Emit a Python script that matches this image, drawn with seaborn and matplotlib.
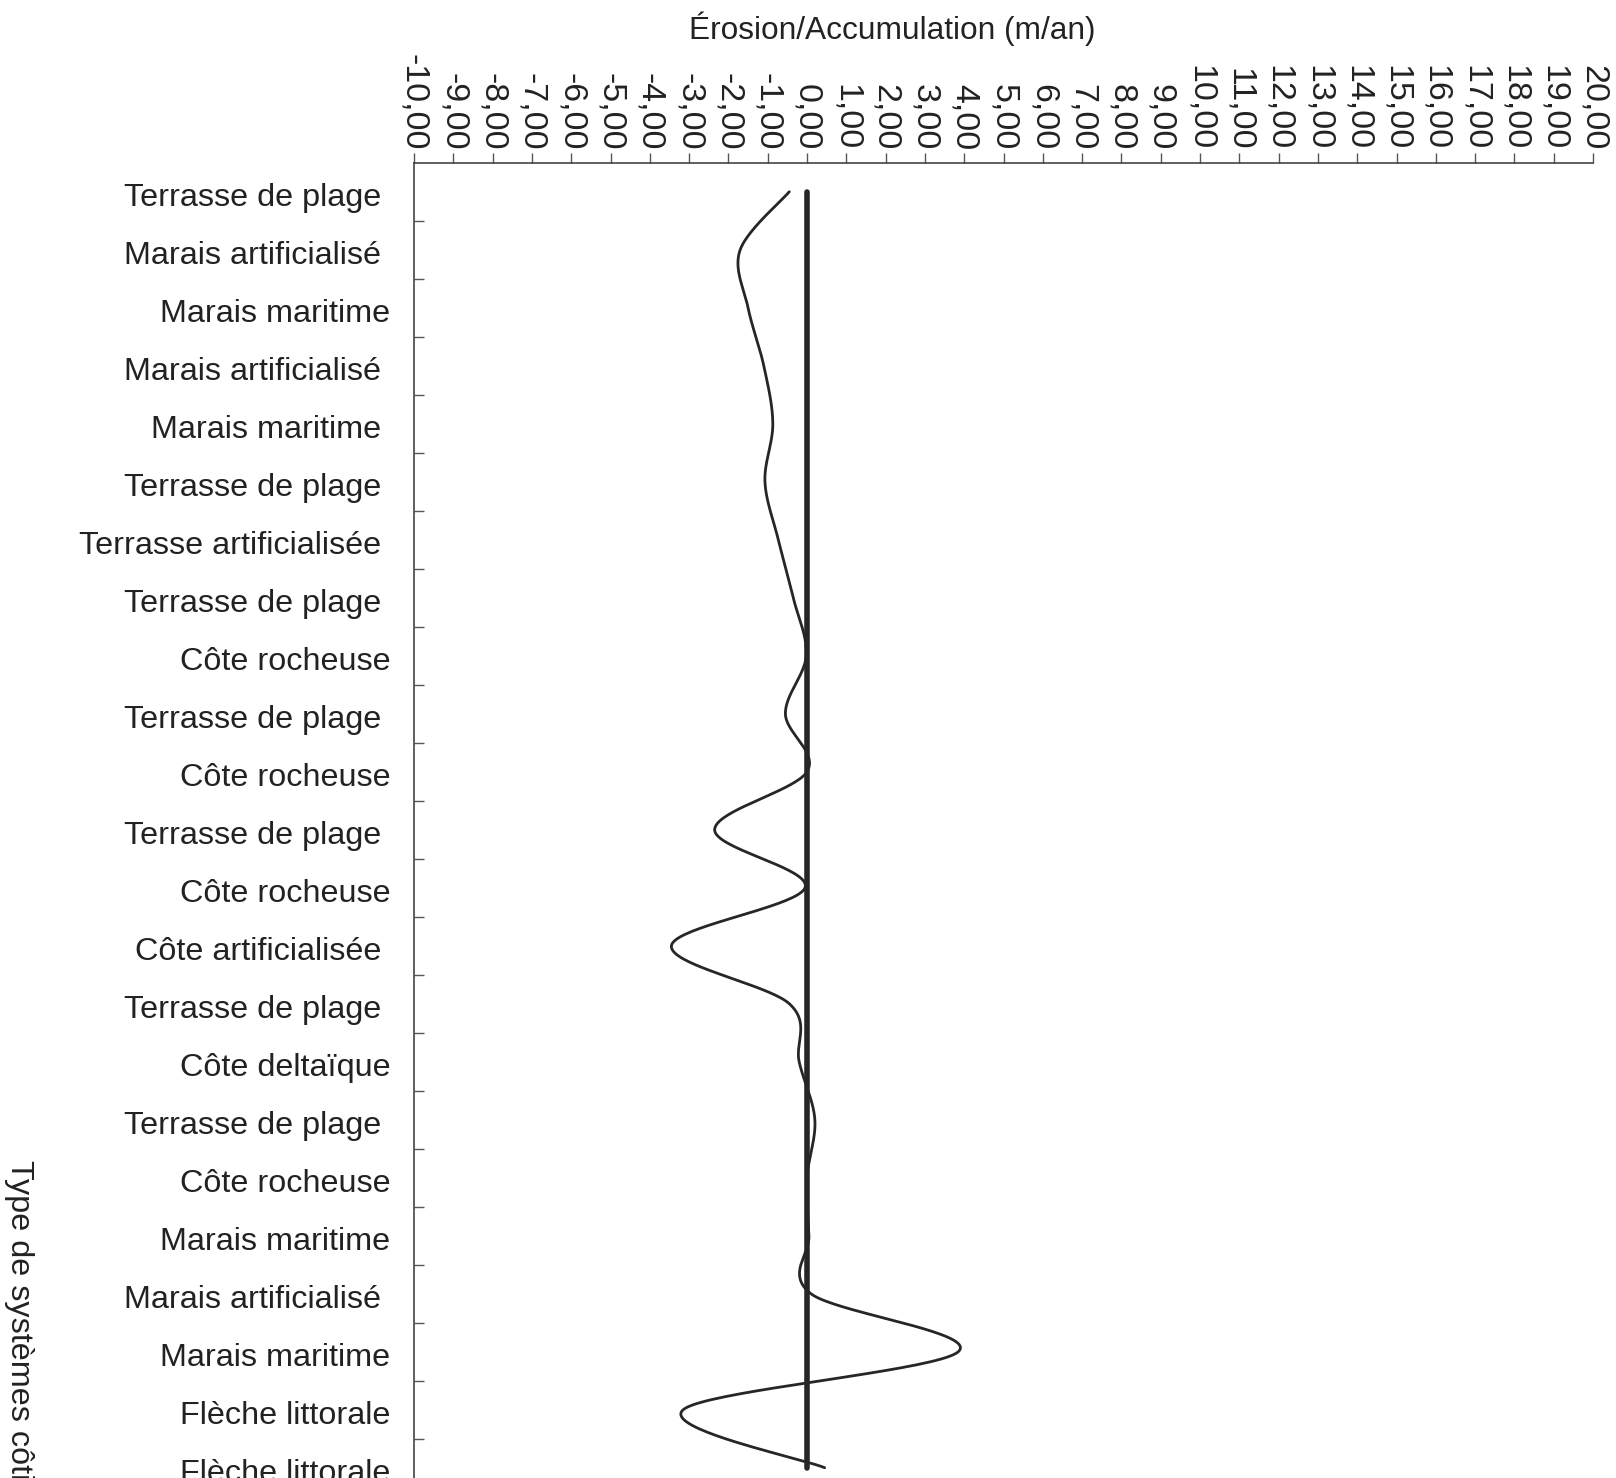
import numpy as np
import pandas as pd
import seaborn as sns
import matplotlib.pyplot as plt
from matplotlib.ticker import FixedLocator
from matplotlib.transforms import ScaledTranslation

# Types de systèmes côtiers (de haut en bas) et taux d'érosion/accumulation (m/an)
categories = [
    "Terrasse de plage ", "Marais artificialisé ", "Marais maritime",
    "Marais artificialisé ", "Marais maritime ", "Terrasse de plage ",
    "Terrasse artificialisée ", "Terrasse de plage ", "Côte rocheuse",
    "Terrasse de plage ", "Côte rocheuse", "Terrasse de plage ",
    "Côte rocheuse", "Côte artificialisée ", "Terrasse de plage ",
    "Côte deltaïque", "Terrasse de plage ", "Côte rocheuse",
    "Marais maritime", "Marais artificialisé ", "Marais maritime",
    "Flèche littorale", "Flèche littorale",
]
taux = [-0.45, -1.70, -1.50, -1.10, -0.87, -1.07, -0.73, -0.35, -0.02,
        -0.55, 0.00, -2.35, -0.05, -3.45, -0.45, -0.20, 0.20, 0.00,
        0.05, 0.10, 3.85, -3.15, 0.45]
reference = [0.0] * len(categories)

xticks = list(range(-10, 21))


def lissage(xs, ys, n=40):
    # courbe lissée type Excel (Catmull-Rom paramétrique)
    p = np.column_stack([xs, ys]).astype(float)
    p = np.vstack([p[0], p, p[-1]])
    out = []
    for i in range(1, len(p) - 2):
        p0, p1, p2, p3 = p[i - 1], p[i], p[i + 1], p[i + 2]
        t = np.linspace(0, 1, n, endpoint=False)[:, None]
        seg = 0.5 * ((2 * p1) + (-p0 + p2) * t
                     + (2 * p0 - 5 * p1 + 4 * p2 - p3) * t ** 2
                     + (-p0 + 3 * p1 - 3 * p2 + p3) * t ** 3)
        out.append(seg)
    out.append(p[-2][None, :])
    return np.vstack(out)


sns.set_style("white")
plt.rcParams['font.family'] = ['Liberation Sans', 'DejaVu Sans']

fig = plt.figure(figsize=(16.16, 14.78), dpi=100)
ax = fig.add_axes([414 / 1616, -0.0519, 1179 / 1616, 0.9418])

pos = np.arange(len(categories))
courbe = lissage(taux, pos)
df = pd.DataFrame({"x": courbe[:, 0], "y": courbe[:, 1]})
sns.lineplot(data=df, x="x", y="y", sort=False, estimator=None, color="#262626",
             linewidth=2.0, ax=ax)
sns.lineplot(x=reference, y=pos, sort=False, estimator=None, color="#262626",
             linewidth=4.0, ax=ax)

ax.set_xlim(-10, 20)
ax.set_ylim(len(categories) + 0.5, -0.5)

ax.xaxis.tick_top()
ax.xaxis.set_label_position("top")
ax.set_xticks(xticks)
ax.set_xticklabels([f"{v:.2f}".replace(".", ",") for v in xticks],
                   rotation=270, fontsize=24.5, color="#222222")
ax.tick_params(axis="x", direction="out", length=7, width=1, color="#555555", pad=2)

ax.set_yticks(pos)
ax.set_yticklabels(categories, fontsize=23.3, color="#222222")
ax.yaxis.set_minor_locator(FixedLocator(pos + 0.5))
ax.tick_params(axis="y", which="major", length=0, pad=17)
ax.tick_params(axis="y", which="minor", direction="in", length=7, width=1,
               color="#555555", left=True)
decalage = ScaledTranslation(0, -3 / 100, fig.dpi_scale_trans)
for lab in ax.get_yticklabels():
    lab.set_transform(lab.get_transform() + decalage)

ax.set_xlabel("Érosion/Accumulation (m/an)", fontsize=22.8, color="#222222", va="center")
ax.xaxis.set_label_coords(0.4058, 1.0961)
ax.set_ylabel("")
fig.text(0.0118, 0.0915, "Type de systèmes côtiers", rotation=270, fontsize=23.3,
         color="#222222", ha="center", va="center")

for s in ["right", "bottom"]:
    ax.spines[s].set_visible(False)
for s in ["top", "left"]:
    ax.spines[s].set_color("#444444")
    ax.spines[s].set_linewidth(1.2)

fig.savefig("out.png", dpi=100)
